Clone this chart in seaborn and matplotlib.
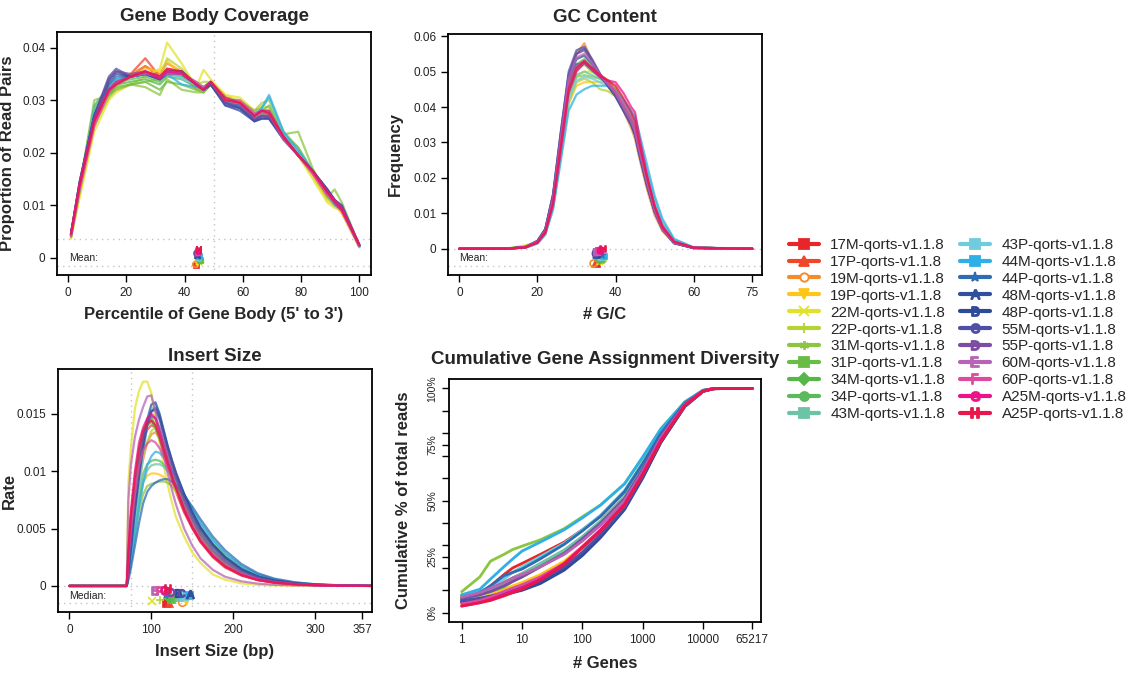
import numpy as np
import pandas as pd
import matplotlib
matplotlib.use("Agg")
import matplotlib.pyplot as plt
from matplotlib.lines import Line2D
from matplotlib.ticker import FixedLocator, NullLocator
import seaborn as sns

# ---------------- data ----------------
samples = ["17M", "17P", "19M", "19P", "22M", "22P", "31M", "31P", "34M", "34P", "43M",
           "43P", "44M", "44P", "48M", "48P", "55M", "55P", "60M", "60P", "A25M", "A25P"]
legend_labels = [s + "-qorts-v1.1.8" for s in samples]
colors = ["#E8262A", "#F0462A", "#F68B2E", "#FFC61A", "#E2E22E", "#B5D334", "#8CC640",
          "#69BD45", "#55B748", "#5BBA5C", "#6CC4A4", "#6ECCDD", "#2EB0E6", "#2E6DB4",
          "#2F4F9F", "#2E4B9A", "#4F4FA5", "#7D4DA3", "#B764B5", "#DE4B9E", "#EC138A", "#E8174B"]
markers = ["s", "^", "o", "v", "x", "+", (6, 2, 0), "s", "D", "o", "s",
           "s", "s", "*", r"$\mathrm{A}$", r"$\mathrm{B}$", r"$\mathrm{C}$", r"$\mathrm{D}$",
           r"$\mathrm{E}$", r"$\mathrm{F}$", r"$\mathrm{G}$", r"$\mathrm{H}$"]

# Gene body coverage (proportion of read pairs, in thousandths)
gb_x = [1, 4, 9, 14, 16.5, 21.5, 26.5, 31.5, 34, 39, 44, 46.5, 49, 54, 59, 64, 66.5, 69,
        74, 79, 84, 89, 91.5, 94, 100]
gb_cov = {
    "17M": [4.3, 13.5, 27, 32, 33.5, 34.5, 36.5, 34.5, 35.5, 35.5, 33, 32, 33.5, 30, 29.5, 26, 27.5, 27, 23.5, 20, 16, 11.5, 10.5, 9, 2.2],
    "17P": [4.2, 13, 26.5, 31.5, 33, 35, 38, 34.5, 36, 35.5, 32.5, 32.5, 33.5, 30.5, 29.5, 27.5, 27.5, 27, 23, 19.5, 16, 11.5, 10, 8.8, 2.1],
    "19M": [4.0, 12.5, 25.5, 31, 33, 35, 36.5, 35, 37, 35.5, 32, 32, 33, 30.5, 29, 27, 27.5, 27, 23, 19.5, 16, 11.5, 10.5, 8.5, 2.0],
    "19P": [3.8, 12, 25, 30.5, 32.5, 34.5, 36, 35.5, 37.5, 35, 32, 32.5, 33.5, 31, 29.5, 27.5, 28, 27.5, 23, 19.5, 15.5, 11, 10, 8.5, 2.0],
    "22M": [3.6, 11.5, 24, 30, 31.5, 33, 34.5, 36, 41, 37, 32.5, 35.8, 34, 31, 30.5, 28, 29, 28.5, 23.5, 19.5, 15, 10.5, 9.5, 9, 2.0],
    "22P": [3.9, 12.5, 25.5, 30.5, 32, 33, 33.5, 34, 38, 36, 33, 33.5, 33.5, 30.5, 30, 28, 29.5, 30, 24, 21, 16, 11.5, 10, 9.5, 2.2],
    "31M": [4.1, 13.5, 30, 31, 32, 33, 32.5, 31, 34, 32, 31.5, 31.5, 33, 30.5, 29.5, 28, 28.5, 30.5, 23.5, 24, 17, 11.5, 13, 10.5, 2.3],
    "31P": [4.0, 13, 28, 31, 32.5, 33, 33.5, 32, 33.5, 33, 32, 31.5, 33, 30, 29, 27, 28, 29, 23.5, 21, 16.5, 12, 11, 9.5, 2.2],
    "34M": [4.1, 13.5, 28.5, 32, 33, 33.5, 34, 33, 34.5, 34, 32.5, 32, 33.5, 30, 29, 27, 28, 28, 23.5, 20, 16.5, 12, 11, 9.5, 2.2],
    "34P": [4.2, 13.5, 29, 32.5, 33.5, 34, 34.5, 33.5, 35, 34.5, 33, 32.5, 33.5, 30, 29, 27, 27.5, 27.5, 23, 20, 16.5, 12.5, 11, 9.5, 2.3],
    "43M": [4.3, 14, 28.5, 33, 34, 34.5, 35, 34, 35, 34.5, 33, 32.5, 33, 29.5, 29, 27, 27.5, 27.5, 23, 20, 16.5, 12, 10.5, 9, 2.2],
    "43P": [4.2, 13.5, 27.5, 32, 33.5, 34.5, 35, 34.5, 35.5, 34, 33, 32.5, 33, 29.5, 29.5, 27.5, 28.5, 30.5, 23.5, 20, 16.5, 12, 10.5, 9, 2.2],
    "44M": [4.3, 14, 27.5, 32.5, 34, 34.5, 35, 34, 35, 33, 32.5, 32.5, 33, 29.5, 29, 27, 28.5, 31, 24, 20.5, 16.5, 12, 10, 9, 2.1],
    "44P": [4.4, 14, 27, 33, 34.5, 34.5, 35, 34.5, 35.5, 35.5, 33, 32, 33, 29.5, 28.5, 26.5, 27, 27, 23, 19.5, 16.5, 12.5, 11, 9.5, 2.3],
    "48M": [4.4, 14, 27, 33.5, 35, 34.5, 35, 34, 35.5, 35.5, 33, 32, 33, 29.5, 28.5, 26, 26.5, 26.5, 23, 19.5, 16.5, 13, 11, 10, 2.4],
    "48P": [4.4, 14.5, 27, 34, 35.5, 34.5, 35, 34, 35, 35, 33, 32, 33, 29, 28, 26, 26.5, 26.5, 22.5, 19.5, 16.5, 13, 11, 9.5, 2.3],
    "55M": [4.5, 14.5, 27, 34.5, 36, 34.5, 35, 34, 35.5, 35, 33, 32, 33, 29, 28.5, 26, 27, 26.5, 22.5, 19.5, 16.5, 13, 11, 9.5, 2.3],
    "55P": [4.5, 14.5, 26.5, 34, 35.5, 35, 35.5, 34.5, 35.5, 35.5, 33, 32, 33.5, 29.5, 29, 26.5, 27, 27, 23, 19.5, 16.5, 12.5, 11, 9.5, 2.4],
    "60M": [4.1, 13, 25, 31.5, 33, 34.5, 35, 34.5, 35, 35, 33.5, 32.5, 33.5, 30, 29.5, 27, 27.5, 27.5, 23, 19.5, 16, 12, 10.5, 9, 2.2],
    "60P": [4.2, 13.5, 25.5, 31.5, 33, 34.5, 35.5, 34.5, 35.5, 35, 33.5, 32, 33.5, 30, 30, 27.5, 28, 27.5, 22.5, 19.5, 16, 12, 10.5, 9, 2.3],
    "A25M": [4.6, 14, 26, 32, 33.5, 34.5, 35.5, 34, 35.5, 35, 33, 32, 33.5, 30.5, 29.5, 27, 28, 28, 23, 19.5, 16.5, 12.5, 11, 9.5, 2.5],
    "A25P": [4.5, 14, 26, 32, 33, 34.5, 35.5, 34.5, 36, 35.5, 33, 32, 33.5, 30, 29.5, 27, 28, 27.5, 23, 19.5, 16.5, 12.5, 10.5, 9, 2.4],
}
gb_mean = [44.0, 44.0, 43.6, 44.2, 44.8, 45.5, 45.6, 45.3, 45.0, 44.9, 44.6,
           44.7, 44.8, 44.4, 44.3, 44.2, 44.0, 44.3, 44.6, 44.5, 44.5, 44.9]

# GC content (frequency, in thousandths)
gc_x = [0, 12, 17, 20, 22, 24, 26, 28, 30, 32, 34, 36, 38, 40, 42, 44, 45, 46, 48, 50, 52, 55, 60, 75]
gc_freq = {
    "17M": [0, 0, 0.4, 1.8, 4.5, 13, 29, 45, 51, 53, 51, 49, 47.5, 45, 41, 37, 34, 29, 20, 12, 6, 2, 0.3, 0],
    "17P": [0, 0, 0.4, 1.7, 4.3, 12.5, 28, 44, 50.5, 52.5, 51, 49, 47.5, 45.5, 42, 38, 35, 30, 21, 12.5, 6.5, 2, 0.3, 0],
    "19M": [0, 0, 0.3, 1.5, 4, 13, 30, 48, 55, 58, 53, 49, 46, 43, 39, 34, 31, 26, 17, 9.5, 5, 1.5, 0.2, 0],
    "19P": [0, 0, 0.4, 1.6, 4.2, 11.5, 26, 41, 46, 47, 47, 47, 47, 45, 42, 38, 35, 30, 21, 13, 7, 2.2, 0.3, 0],
    "22M": [0, 0, 1, 2, 4.5, 12, 27, 43, 49, 50, 50, 49, 47.5, 45.5, 42, 38, 35, 30, 21, 13, 7, 2.2, 0.3, 0],
    "22P": [0, 0, 0.8, 1.8, 4.5, 12, 26, 41, 47, 48, 47, 45, 44.5, 43, 41, 38, 36.5, 31, 22, 13.5, 7.5, 2.5, 0.3, 0],
    "31M": [0, 0.1, 0.6, 1.8, 4.6, 13, 28, 43, 48.5, 49, 48.5, 48, 46.5, 44.5, 41, 37.5, 35.5, 30, 21, 13, 7, 2.2, 0.3, 0],
    "31P": [0, 0, 0.5, 1.8, 4.6, 13, 29, 45, 50.5, 52, 50, 48.5, 47, 45, 41.5, 37, 34, 29, 20, 12, 6.5, 2, 0.3, 0],
    "34M": [0, 0, 0.5, 1.9, 4.8, 13.5, 30, 46, 52, 53.5, 51, 49, 47, 44.5, 41, 36.5, 33.5, 28.5, 19.5, 11.5, 6, 1.8, 0.3, 0],
    "34P": [0, 0, 0.5, 1.9, 4.8, 13.5, 30, 46, 51, 53, 51, 49, 47, 44.5, 41, 36.5, 33.5, 28.5, 19.5, 11.5, 6, 1.8, 0.3, 0],
    "43M": [0, 0, 0.4, 1.7, 4.5, 12.5, 28, 44, 49, 50, 49, 48, 46.5, 44.5, 41.5, 38, 36, 31, 21.5, 13, 7, 2.2, 0.3, 0],
    "43P": [0, 0, 0.4, 1.6, 4.2, 12, 27, 42, 47.5, 48.5, 48, 47, 46, 44, 41.5, 38.5, 36.5, 31.5, 22.5, 14, 7.5, 2.5, 0.3, 0],
    "44M": [0, 0, 0.4, 1.5, 4, 11, 25, 39, 43.5, 45, 46, 46, 46, 44.5, 42, 39, 37.5, 33, 24, 15, 8.5, 2.8, 0.4, 0],
    "44P": [0, 0, 0.5, 2, 5, 14, 31, 47, 52, 52.5, 50.5, 48.5, 46.5, 44, 40, 36, 33, 28, 19, 11, 5.5, 1.8, 0.3, 0],
    "48M": [0, 0, 0.5, 2.2, 5.5, 15, 33, 49, 55, 56.5, 53, 49, 46, 43, 39, 35, 32, 27, 18, 10.5, 5.5, 1.6, 0.2, 0],
    "48P": [0, 0, 0.5, 2.2, 5.5, 15, 32, 48, 53.5, 54.5, 52, 49, 46.5, 43.5, 39.5, 35.5, 32.5, 27.5, 18.5, 10.5, 5.5, 1.6, 0.2, 0],
    "55M": [0, 0, 0.5, 2.2, 5.5, 15.5, 33, 50, 56, 57, 53.5, 49.5, 46, 43, 39, 35, 32, 27, 18, 10.5, 5.5, 1.6, 0.2, 0],
    "55P": [0, 0, 0.5, 2.1, 5.3, 15, 32, 49, 55, 56, 53, 49, 46.5, 43.5, 39.5, 35.5, 33, 28, 18.5, 10.5, 5.5, 1.6, 0.2, 0],
    "60M": [0, 0, 0.5, 2, 5, 14, 31, 48, 54, 55, 52.5, 49, 46.5, 44, 40, 36, 33, 28, 19, 11, 5.5, 1.7, 0.3, 0],
    "60P": [0, 0, 0.5, 1.9, 4.8, 13.5, 30, 46.5, 51.5, 53, 51, 49, 47, 44.5, 41, 37, 34.5, 29, 20, 12, 6, 1.9, 0.3, 0],
    "A25M": [0, 0, 0.4, 1.7, 4.5, 12.5, 28, 44, 50, 52.5, 50.5, 48.5, 47.5, 47, 44, 40, 38.5, 32, 21, 12, 6.5, 2, 0.3, 0],
    "A25P": [0, 0, 0.4, 1.8, 4.6, 13, 29, 45, 51, 53, 51, 49, 47.5, 46, 42.5, 38.5, 36, 30, 20.5, 12, 6, 2, 0.3, 0],
}
gc_mean = [35.2, 34.6, 34.3, 36.0, 36.0, 37.0, 36.5, 36.2, 35.8, 36.0, 36.0,
           36.4, 37.0, 36.5, 35.0, 35.2, 34.8, 35.0, 35.3, 35.6, 36.0, 36.7]

# Insert size (rate, in thousandths)
ins_x = [0, 68, 70, 72, 75, 80, 85, 90, 95, 100, 105, 110, 115, 120, 125, 130, 140, 150,
         160, 175, 190, 210, 230, 250, 275, 300, 330, 370]
ins_rate = {
    "17M": [0, 0, 0, 3, 6, 9, 11.5, 13, 14, 14.5, 14, 12.8, 11.5, 10.3, 9.2, 8.2, 6.4, 5, 3.8, 2.5, 1.6, 0.9, 0.5, 0.28, 0.13, 0.06, 0.02, 0],
    "17P": [0, 0, 0, 2.5, 5.5, 8.5, 11, 12.7, 13.6, 14, 13.8, 12.8, 11.6, 10.5, 9.4, 8.4, 6.6, 5.1, 3.9, 2.6, 1.7, 0.95, 0.52, 0.3, 0.14, 0.07, 0.03, 0],
    "19M": [0, 0, 0, 1.5, 3.5, 6.5, 9, 11, 12.5, 13.2, 13.4, 12.8, 11.8, 10.8, 9.8, 8.9, 7.2, 5.7, 4.4, 3, 2, 1.1, 0.62, 0.35, 0.17, 0.08, 0.03, 0],
    "19P": [0, 0, 0, 1, 2.5, 5, 7.5, 9, 9.6, 9.8, 9.8, 9.7, 9.5, 9.1, 8.7, 8.2, 7, 5.8, 4.7, 3.3, 2.3, 1.4, 0.8, 0.45, 0.22, 0.1, 0.04, 0],
    "22M": [0, 0, 0, 9, 12, 15.5, 17, 17.8, 17.8, 16.8, 14.5, 12.5, 10.5, 8.8, 7.3, 6, 4.3, 2.9, 2, 1, 0.55, 0.22, 0.1, 0.05, 0.02, 0.01, 0, 0],
    "22P": [0, 0, 0, 2, 4, 7, 9.5, 11.5, 12.5, 13.5, 13.8, 13.3, 12.2, 11, 10, 9, 7.3, 5.8, 4.5, 3.1, 2.1, 1.2, 0.65, 0.37, 0.18, 0.08, 0.03, 0],
    "31M": [0, 0, 0, 0.8, 2, 4.5, 6.5, 8, 8.7, 8.9, 9, 9.1, 9.1, 9, 8.7, 8.3, 7.2, 6.1, 5, 3.6, 2.5, 1.5, 0.85, 0.48, 0.24, 0.11, 0.04, 0],
    "31P": [0, 0, 0, 2.5, 5, 8.5, 11.5, 13.5, 14.5, 14.7, 14, 12.8, 11.6, 10.5, 9.4, 8.5, 6.8, 5.3, 4.1, 2.8, 1.8, 1, 0.55, 0.3, 0.15, 0.07, 0.03, 0],
    "34M": [0, 0, 0, 2, 4.5, 8, 11, 13, 14, 14.3, 13.8, 12.9, 11.9, 10.8, 9.8, 8.8, 7.1, 5.6, 4.3, 2.9, 1.95, 1.1, 0.6, 0.34, 0.16, 0.07, 0.03, 0],
    "34P": [0, 0, 0, 1.2, 3, 5.5, 8, 9.8, 10.6, 10.9, 11, 10.9, 10.6, 10.1, 9.5, 8.9, 7.6, 6.3, 5.1, 3.7, 2.6, 1.55, 0.88, 0.5, 0.25, 0.11, 0.04, 0],
    "43M": [0, 0, 0, 0.8, 2.2, 4.5, 7, 9, 10.1, 10.5, 10.6, 10.6, 10.4, 10, 9.5, 9, 7.8, 6.6, 5.4, 4, 2.8, 1.7, 0.98, 0.56, 0.28, 0.13, 0.05, 0],
    "43P": [0, 0, 0, 1, 2.5, 5.5, 8.5, 11.5, 14, 15.3, 15.8, 15, 13.5, 12, 10.7, 9.5, 7.6, 6, 4.7, 3.3, 2.2, 1.3, 0.72, 0.4, 0.2, 0.09, 0.03, 0],
    "44M": [0, 0, 0, 0.8, 2, 4.5, 7, 9, 10.5, 11.3, 11.7, 11.6, 11.2, 10.6, 10, 9.4, 8, 6.7, 5.5, 4, 2.85, 1.7, 1, 0.57, 0.29, 0.13, 0.05, 0],
    "44P": [0, 0, 0, 0.5, 1.5, 3.5, 5.5, 7.2, 8.2, 8.7, 9, 9.2, 9.3, 9.3, 9.1, 8.8, 7.9, 6.9, 5.8, 4.3, 3.1, 1.9, 1.1, 0.64, 0.32, 0.15, 0.06, 0],
    "48M": [0, 0, 0, 1.5, 3.5, 7, 10, 12.5, 14.5, 15.8, 16, 15, 13.6, 12.2, 11, 9.9, 8, 6.4, 5, 3.6, 2.5, 1.45, 0.82, 0.46, 0.23, 0.1, 0.04, 0],
    "48P": [0, 0, 0, 1.2, 3, 6.5, 9.5, 12, 14, 15.2, 15.5, 14.7, 13.4, 12.1, 10.9, 9.8, 8, 6.4, 5.1, 3.6, 2.5, 1.45, 0.82, 0.46, 0.23, 0.1, 0.04, 0],
    "55M": [0, 0, 0, 1.5, 3.5, 7, 10, 12.5, 14.2, 15.2, 15.4, 14.5, 13.2, 11.9, 10.7, 9.6, 7.7, 6.1, 4.8, 3.4, 2.3, 1.35, 0.76, 0.42, 0.21, 0.1, 0.04, 0],
    "55P": [0, 0, 0, 2, 4.5, 8, 11, 13, 14.3, 14.8, 14.6, 13.8, 12.6, 11.4, 10.3, 9.3, 7.4, 5.8, 4.5, 3.1, 2.1, 1.2, 0.68, 0.38, 0.19, 0.09, 0.03, 0],
    "60M": [0, 0, 0, 7.5, 10.5, 13, 14.5, 15.6, 16.5, 16.6, 15.2, 13.2, 11.4, 9.8, 8.4, 7.1, 5, 3.5, 2.4, 1.4, 0.8, 0.4, 0.2, 0.1, 0.05, 0.02, 0.01, 0],
    "60P": [0, 0, 0, 2.5, 5, 8, 10.5, 11.8, 12.4, 12.7, 12.5, 12, 11.3, 10.4, 9.5, 8.6, 6.9, 5.4, 4.1, 2.8, 1.85, 1.05, 0.57, 0.32, 0.16, 0.07, 0.03, 0],
    "A25M": [0, 0, 0, 3, 6.5, 10, 12.5, 13.8, 14.6, 15, 14.6, 13.5, 12.2, 10.9, 9.7, 8.6, 6.7, 5.1, 3.9, 2.6, 1.7, 0.95, 0.52, 0.29, 0.14, 0.06, 0.02, 0],
    "A25P": [0, 0, 0, 3, 6, 9.5, 12, 13.5, 14.2, 14.4, 14, 13, 11.8, 10.6, 9.5, 8.5, 6.6, 5.1, 3.9, 2.6, 1.7, 0.95, 0.52, 0.29, 0.14, 0.06, 0.02, 0],
}
ins_median = [118, 122, 137, 142, 101, 111, 127, 124, 121, 128, 134,
              140, 146, 117, 147, 133, 136, 124, 105, 110, 116, 120]

# Cumulative gene assignment diversity (% of total reads)
div_x = [1, 2, 3, 5, 7, 10, 20, 50, 100, 200, 500, 1000, 2000, 5000, 10000, 15000, 65217]
div_pct = {
    "17M": [5.5, 8.5, 12, 17, 20, 22, 26, 31.5, 37, 43, 54, 66.5, 80, 93.5, 99, 99.9, 100],
    "17P": [5, 7.5, 10, 13.5, 15.5, 17.5, 21.5, 27, 33, 40, 51, 64, 78.5, 93, 99, 99.9, 100],
    "19M": [5, 6.5, 7.5, 9, 10.5, 11.5, 15, 20.5, 26.5, 34, 46.5, 60.5, 76, 92, 98.7, 99.9, 100],
    "19P": [6, 7.5, 8.5, 10.5, 12, 13.5, 17, 23, 29.5, 37, 48.5, 62, 77, 92.5, 98.8, 99.9, 100],
    "22M": [4, 6.5, 9, 13, 15, 17, 21, 27, 33, 40, 51, 64, 78.5, 93, 99, 99.9, 100],
    "22P": [7, 8.5, 9.5, 12, 14, 16, 20.5, 26.5, 32.5, 39.5, 50.5, 63.5, 78, 93, 99, 99.9, 100],
    "31M": [9.4, 16, 23, 26, 28.2, 29.7, 32.5, 37.5, 42.8, 48, 57.5, 69, 82, 94, 99.2, 99.9, 100],
    "31P": [7.5, 8.5, 9.5, 11.5, 14, 16.5, 21, 27, 33, 40, 51, 64, 78.5, 93, 99, 99.9, 100],
    "34M": [8, 9, 10, 12.5, 15, 17, 21.5, 27.5, 33.5, 40.5, 51.5, 64.5, 79, 93, 99, 99.9, 100],
    "34P": [6.5, 8, 9.5, 12, 14, 16, 20.5, 26.5, 32.5, 39.5, 50.5, 63.5, 78, 93, 99, 99.9, 100],
    "43M": [6, 8, 10, 13, 15.5, 17.5, 22, 28, 34, 41, 52, 65, 79, 93.2, 99, 99.9, 100],
    "43P": [7, 9.5, 11.5, 15, 18, 20.5, 25, 31, 37, 43.5, 54.5, 67, 80.5, 93.7, 99.1, 99.9, 100],
    "44M": [8, 10.5, 15, 20.5, 24, 27.5, 31.5, 37, 42.3, 48, 57.5, 69.5, 82, 94, 99.2, 99.9, 100],
    "44P": [6, 9, 12, 16.5, 18, 19.5, 24, 30.5, 36.5, 43, 54, 66.5, 80, 93.5, 99, 99.9, 100],
    "48M": [5, 6, 7, 8.5, 9.5, 10.5, 13.5, 19.5, 26, 34, 46.5, 60.5, 76, 92, 98.7, 99.9, 100],
    "48P": [4.5, 5.5, 6.5, 8, 9, 10, 13, 19, 25.5, 33.5, 46, 60, 76, 92, 98.7, 99.9, 100],
    "55M": [5.5, 6.5, 7.5, 9, 10, 11.5, 14.5, 20.5, 27, 35, 47, 61, 76.5, 92, 98.7, 99.9, 100],
    "55P": [6.5, 8, 9.5, 12, 14, 16, 20.5, 26.5, 33, 40, 51, 64, 78.5, 93, 99, 99.9, 100],
    "60M": [7, 9, 11, 13.5, 15.5, 17, 20.5, 26, 32, 39, 50, 63, 78, 92.8, 99, 99.9, 100],
    "60P": [4, 5.5, 7, 9.5, 11, 12.5, 16, 22, 29, 36.5, 48, 62, 77, 92.5, 98.8, 99.9, 100],
    "A25M": [3, 4.5, 6, 8, 9.5, 11, 15, 22, 29.5, 37, 48.5, 62, 77, 92.5, 98.8, 99.9, 100],
    "A25P": [3, 4.5, 5.5, 7.5, 9, 10.5, 14.5, 21.5, 29, 36.5, 48, 61.5, 76.5, 92.5, 98.8, 99.9, 100],
}

# ---------------- style ----------------
sns.set_theme(style="white")
plt.rcParams["font.family"] = ["Liberation Sans", "DejaVu Sans"]
plt.rcParams["mathtext.fontset"] = "custom"
plt.rcParams["mathtext.rm"] = "Liberation Sans"
plt.rcParams["axes.edgecolor"] = "black"
plt.rcParams["axes.linewidth"] = 1.3

W, H = 1135, 673
fig = plt.figure(figsize=(W / 100, H / 100), dpi=100)


def add_ax(left, top, right, bottom):
    return fig.add_axes([left / W, 1 - bottom / H, (right - left) / W, (bottom - top) / H])


ax1 = add_ax(57, 32, 371, 275)
ax2 = add_ax(448, 34, 762, 275)
ax3 = add_ax(58, 369, 372, 612)
ax4 = add_ax(449, 379, 761, 622)

palette = dict(zip(samples, colors))
GUIDE = dict(color="#c4c4c4", ls=(0, (1, 3)), lw=1.0, zorder=0)


def long_df(x, table, scale):
    rows = []
    for s in samples:
        for xi, yi in zip(x, table[s]):
            rows.append((s, xi, yi * scale))
    return pd.DataFrame(rows, columns=["sample", "x", "y"])


def draw_lines(ax, df, lw, alpha):
    sns.lineplot(data=df, x="x", y="y", hue="sample", palette=palette, hue_order=samples,
                 estimator=None, sort=False, legend=False, lw=lw, alpha=alpha, ax=ax)


def draw_markers(ax, xs, ys, ms):
    for x, y, c, m in zip(xs, ys, colors, markers):
        filled = m not in ("x", "+", (6, 2, 0)) and not (isinstance(m, str) and m.startswith("$"))
        if m == "o" and c == "#F68B2E":
            ax.plot([x], [y], marker=m, ms=ms, mec=c, mfc="none", mew=1.2, ls="none", zorder=5)
        else:
            ax.plot([x], [y], marker=m, ms=ms, color=c, mec=c, mew=1.2 if not filled else 0.5,
                    ls="none", zorder=5)


def style_axis(ax):
    for sp in ax.spines.values():
        sp.set_color("black")
        sp.set_linewidth(1.3)
    ax.tick_params(axis="both", which="both", direction="out", length=5, width=1,
                   labelsize=8.5, color="black", labelcolor="#222222", bottom=True, left=True,
                   top=False, right=False)
    ax.grid(False)


TITLE = dict(fontsize=13.5, fontweight="bold")
LABEL = dict(fontsize=12, fontweight="bold")

# ---- Panel 1: Gene Body Coverage ----
draw_lines(ax1, long_df(gb_x, gb_cov, 1e-3), 1.6, 0.75)
ax1.axvline(50, **GUIDE)
ax1.axhline(0.0035, **GUIDE)
ax1.axhline(-0.0015, **GUIDE)
draw_markers(ax1, gb_mean, np.linspace(-0.0014, 0.0015, len(samples)), 4)
ax1.text(0.3, 0.0, "Mean:", fontsize=7.5, va="center", ha="left", color="#222222")
ax1.set_xlim(-3.8, 104)
ax1.set_ylim(-0.0033, 0.043)
ax1.set_xticks([0, 20, 40, 60, 80, 100])
ax1.set_yticks([0, 0.01, 0.02, 0.03, 0.04])
ax1.set_yticklabels(["0", "0.01", "0.02", "0.03", "0.04"])
ax1.set_title("Gene Body Coverage", pad=8, **TITLE)
ax1.set_xlabel("Percentile of Gene Body (5' to 3')", labelpad=6, **LABEL)
ax1.set_ylabel("Proportion of Read Pairs", **LABEL)
ax1.yaxis.set_label_coords(-0.135, 0.5)
style_axis(ax1)

# ---- Panel 2: GC Content ----
draw_lines(ax2, long_df(gc_x, gc_freq, 1e-3), 1.6, 0.75)
ax2.axhline(0.0, **GUIDE)
ax2.axhline(-0.0048, **GUIDE)
draw_markers(ax2, gc_mean, np.linspace(-0.0044, -0.0002, len(samples)), 5)
ax2.text(0.0, -0.0025, "Mean:", fontsize=7.5, va="center", ha="left", color="#222222")
ax2.set_xlim(-2.9, 77.5)
ax2.set_ylim(-0.0074, 0.0606)
ax2.set_xticks([0, 20, 40, 60, 75])
ax2.set_yticks([0, 0.01, 0.02, 0.03, 0.04, 0.05, 0.06])
ax2.set_yticklabels(["0", "0.01", "0.02", "0.03", "0.04", "0.05", "0.06"])
ax2.set_title("GC Content", pad=9, **TITLE)
ax2.set_xlabel("# G/C", labelpad=6, **LABEL)
ax2.set_ylabel("Frequency", **LABEL)
ax2.yaxis.set_label_coords(-0.145, 0.5)
style_axis(ax2)

# ---- Panel 3: Insert Size ----
draw_lines(ax3, long_df(ins_x, ins_rate, 1e-3), 1.6, 0.75)
ax3.axvline(75, **GUIDE)
ax3.axvline(150, **GUIDE)
ax3.axhline(0.0, **GUIDE)
ax3.axhline(-0.0015, **GUIDE)
draw_markers(ax3, ins_median, np.linspace(-0.0015, -0.0003, len(samples)), 5.5)
ax3.text(0.0, -0.00085, "Median:", fontsize=7.5, va="center", ha="left", color="#222222")
ax3.set_xlim(-13.8, 369)
ax3.set_ylim(-0.00227, 0.0189)
ax3.set_xticks([0, 100, 200, 300, 357])
ax3.set_yticks([0, 0.005, 0.01, 0.015])
ax3.set_yticklabels(["0", "0.005", "0.01", "0.015"])
ax3.set_title("Insert Size", pad=6, **TITLE)
ax3.set_xlabel("Insert Size (bp)", labelpad=6, **LABEL)
ax3.set_ylabel("Rate", **LABEL)
ax3.yaxis.set_label_coords(-0.13, 0.5)
style_axis(ax3)

# ---- Panel 4: Cumulative Gene Assignment Diversity ----
draw_lines(ax4, long_df(div_x, div_pct, 1.0), 2.0, 1.0)
ax4.set_xscale("log")
ax4.set_xlim(10 ** -0.21, 10 ** 4.96)
ax4.set_ylim(-4.1, 104.2)
ax4.xaxis.set_major_locator(FixedLocator([1, 10, 100, 1000, 10000, 65217]))
ax4.xaxis.set_minor_locator(NullLocator())
ax4.set_xticklabels(["1", "10", "100", "1000", "10000", "65217"])
ax4.yaxis.set_major_locator(FixedLocator([0, 25, 50, 75, 100]))
ax4.yaxis.set_minor_locator(FixedLocator(list(range(0, 101, 10))))
ax4.set_yticklabels(["0%", "25%", "50%", "75%", "100%"], rotation=90, va="center")
style_axis(ax4)
ax4.tick_params(axis="y", labelsize=7.5)
ax4.set_title("Cumulative Gene Assignment Diversity", pad=11, **TITLE)
ax4.set_xlabel("# Genes", labelpad=7, **LABEL)
ax4.set_ylabel("Cumulative % of total reads", **LABEL)
ax4.yaxis.set_label_coords(-0.122, 0.5)

# ---- Legend ----
handles = []
for c, m in zip(colors, markers):
    if m == "o" and c == "#F68B2E":
        handles.append(Line2D([0], [0], color=c, lw=3, marker=m, ms=6, mfc="white", mec=c, mew=1.4))
    else:
        handles.append(Line2D([0], [0], color=c, lw=3, marker=m, ms=6.5, mec=c, mew=1.3))
fig.legend(handles, legend_labels, ncol=2, loc="upper left",
           bbox_to_anchor=(789 / W, 1 - 238 / H), frameon=False, fontsize=11,
           handlelength=1.95, handletextpad=0.75, columnspacing=1.0, labelspacing=0.19,
           borderaxespad=0, borderpad=0)

fig.savefig("out.png", dpi=100)
